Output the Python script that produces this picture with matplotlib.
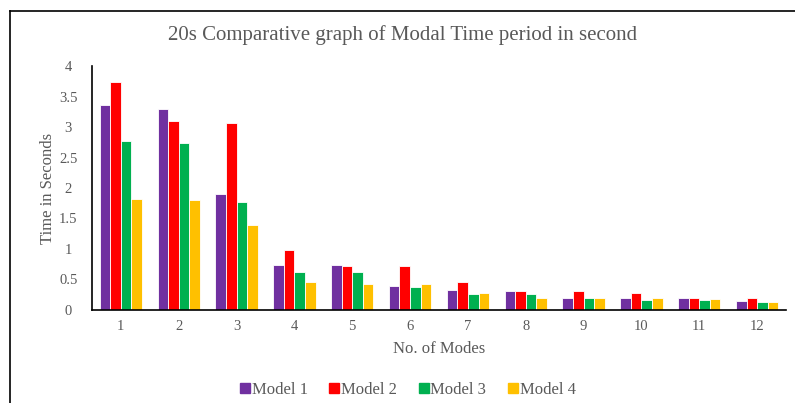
import numpy as np
import matplotlib
matplotlib.use("Agg")
import matplotlib.pyplot as plt
from matplotlib.lines import Line2D

plt.rcParams["font.family"] = ["Liberation Serif", "DejaVu Serif"]

# Modal time period (s) for each mode
modes = ["1", "2", "3", "4", "5", "6", "7", "8", "9", "10", "11", "12"]
model_1 = [3.36, 3.30, 1.90, 0.73, 0.73, 0.40, 0.32, 0.31, 0.20, 0.20, 0.19, 0.14]
model_2 = [3.74, 3.10, 3.07, 0.98, 0.72, 0.72, 0.46, 0.31, 0.31, 0.28, 0.20, 0.20]
model_3 = [2.77, 2.74, 1.77, 0.62, 0.62, 0.38, 0.26, 0.26, 0.19, 0.17, 0.17, 0.13]
model_4 = [1.82, 1.80, 1.39, 0.46, 0.42, 0.42, 0.28, 0.20, 0.20, 0.20, 0.18, 0.13]
series_names = ["Model 1", "Model 2", "Model 3", "Model 4"]
colors = ["#7030A0", "#FF0000", "#00B050", "#FFC000"]

grey = "#595959"

fig = plt.figure(figsize=(7.95, 4.03), dpi=100)
ax = fig.add_axes([0.1157, 0.2308, 0.873, 0.6054])

x = np.arange(len(modes))
width = 0.183
for i, (vals, name, c) in enumerate(zip([model_1, model_2, model_3, model_4], series_names, colors)):
    ax.bar(x + (i - 1.5) * width, vals, width, color=c, edgecolor="white", linewidth=0.6, label=name)

ax.set_xlim(-0.5, len(modes) - 0.5)
ax.set_ylim(0, 4)
ax.set_yticks(np.arange(0, 4.01, 0.5))
ax.set_yticklabels(["0", "0.5", "1", "1.5", "2", "2.5", "3", "3.5", "4"])
ax.set_xticks(x)
ax.set_xticklabels(modes)
ax.tick_params(axis="both", length=0, labelsize=10.5, colors=grey)
ax.tick_params(axis="x", pad=7)
ax.tick_params(axis="y", pad=17)
for lbl in ax.get_yticklabels():
    lbl.set_horizontalalignment("center")
for s in ["top", "right"]:
    ax.spines[s].set_visible(False)
ax.spines["left"].set_linewidth(1.2)
ax.spines["bottom"].set_linewidth(1.2)

ax.set_xlabel("No. of Modes", fontsize=12, color=grey, labelpad=6)
ax.set_ylabel("Time in Seconds", fontsize=12, color=grey, labelpad=2)
fig.text(0.506, 0.913, "20s Comparative graph of Modal Time period in second",
         ha="center", va="center", fontsize=15, color=grey)

handles = [Line2D([], [], marker="s", linestyle="none", markersize=7, color=c) for c in colors]
fig.legend(handles, series_names, loc="center", bbox_to_anchor=(0.512, 0.033), ncol=4,
           frameon=False, fontsize=12, handletextpad=0.0, columnspacing=1.2,
           labelcolor=grey, handlelength=0.8)

# outer frame lines (top and left) as in the reference
fig.add_artist(Line2D([0.0125, 1.0], [0.973, 0.973], color="black", linewidth=1.2, transform=fig.transFigure))
fig.add_artist(Line2D([0.0125, 0.0125], [0.0, 0.973], color="black", linewidth=1.2, transform=fig.transFigure))

fig.savefig("out.png", dpi=100)
